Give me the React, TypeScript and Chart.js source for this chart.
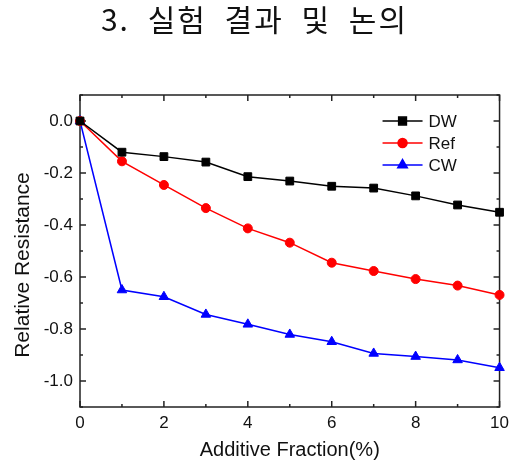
import React, { useEffect, useRef } from "react";
import { Chart, registerables } from "chart.js";
import { drawPoint } from "chart.js/helpers";

Chart.register(...registerables);

// Relative resistance vs. additive fraction for three water types
const fractions = [0, 1, 2, 3, 4, 5, 6, 7, 8, 9, 10];
const dwValues = [0, -0.12, -0.137, -0.158, -0.214, -0.231, -0.251, -0.258, -0.288, -0.323, -0.351];
const refValues = [0, -0.155, -0.246, -0.335, -0.413, -0.468, -0.545, -0.577, -0.608, -0.633, -0.669];
const cwValues = [0, -0.65, -0.676, -0.744, -0.782, -0.821, -0.849, -0.894, -0.906, -0.919, -0.949];

const seriesNames = ["DW", "Ref", "CW"];
const yTickValues = [-1.0, -0.8, -0.6, -0.4, -0.2, 0.0];
const xRange = [0, 10];
const yRange = [-1.1, 0.1];

const pageTitle = "3. 실험 결과 및 논의";
const xAxisTitle = "Additive Fraction(%)";
const yAxisTitle = "Relative Resistance";

const FONT = '"Liberation Sans", Arial, sans-serif';

// Box frame with inward major/minor ticks on all four sides
const framePlugin = {
  id: "frame",
  beforeDatasetsDraw(chart: any) {
    const { ctx, chartArea, scales } = chart;
    const { left, right, top, bottom } = chartArea;
    const line = (x0: number, y0: number, x1: number, y1: number) => {
      ctx.beginPath();
      ctx.moveTo(x0, y0);
      ctx.lineTo(x1, y1);
      ctx.stroke();
    };
    ctx.save();
    ctx.strokeStyle = "#222";
    ctx.lineWidth = 1.5;
    ctx.strokeRect(left, top, right - left, bottom - top);
    for (let v = xRange[0]; v <= xRange[1]; v++) {
      const px = scales.x.getPixelForValue(v);
      const len = v % 2 === 0 ? 6 : 3;
      line(px, bottom, px, bottom - len);
      line(px, top, px, top + len);
    }
    for (let i = -11; i <= 1; i++) {
      const py = scales.y.getPixelForValue(i / 10);
      const len = i % 2 === 0 ? 6 : 3;
      line(left, py, left + len, py);
      line(right, py, right - len, py);
    }
    ctx.restore();
  },
};

// Legend placed inside the plot, upper right
const insideLegendPlugin = {
  id: "insideLegend",
  afterDatasetsDraw(chart: any) {
    const { ctx, chartArea } = chart;
    ctx.save();
    chart.data.datasets.forEach((ds: any, i: number) => {
      const y = chartArea.top + 26 + i * 22;
      const x0 = chartArea.right - 117;
      const x1 = chartArea.right - 77;
      ctx.strokeStyle = ds.borderColor;
      ctx.lineWidth = ds.borderWidth;
      ctx.beginPath();
      ctx.moveTo(x0, y);
      ctx.lineTo(x1, y);
      ctx.stroke();
      ctx.fillStyle = ds.pointBackgroundColor;
      ctx.strokeStyle = ds.borderColor;
      drawPoint(
        ctx,
        { pointStyle: ds.pointStyle, radius: ds.pointRadius, borderWidth: 1, rotation: 0 },
        (x0 + x1) / 2,
        y
      );
      ctx.fillStyle = "#111";
      ctx.font = `17px ${FONT}`;
      ctx.textAlign = "left";
      ctx.textBaseline = "middle";
      ctx.fillText(ds.label, chartArea.right - 71, y + 1);
    });
    ctx.restore();
  },
};

// Section heading above the plot and the vertical axis title
const textPlugin = {
  id: "headings",
  afterDraw(chart: any) {
    const { ctx, chartArea, width } = chart;
    ctx.save();
    ctx.fillStyle = "#111";
    ctx.font = `30px "Noto Sans CJK KR", sans-serif`;
    (ctx as any).letterSpacing = "2px";
    (ctx as any).wordSpacing = "9px";
    ctx.textAlign = "center";
    ctx.textBaseline = "middle";
    ctx.fillText(pageTitle, width / 2 - 3, 20);
    ctx.restore();

    ctx.save();
    ctx.translate(23, (chartArea.top + chartArea.bottom) / 2 + 14);
    ctx.rotate(-Math.PI / 2);
    ctx.fillStyle = "#111";
    ctx.font = `21px ${FONT}`;
    ctx.textAlign = "center";
    ctx.textBaseline = "middle";
    ctx.fillText(yAxisTitle, 0, 0);
    ctx.restore();
  },
};

export default function App() {
  const canvasRef = useRef<HTMLCanvasElement>(null);

  useEffect(() => {
    if (!canvasRef.current) return;
    const mk = (label: string, data: number[], color: string, style: string, r: number) => ({
      label,
      data: fractions.map((f, i) => ({ x: f, y: data[i] })),
      borderColor: color,
      backgroundColor: color,
      pointBackgroundColor: color,
      pointBorderColor: color,
      borderWidth: 1.5,
      pointStyle: style,
      pointRadius: r,
      pointBorderWidth: 1,
      clip: false as any,
    });
    const chart = new Chart(canvasRef.current, {
      type: "line",
      data: {
        datasets: [
          mk(seriesNames[0], dwValues, "#000000", "rect", 5.5),
          mk(seriesNames[1], refValues, "#ff0000", "circle", 4.5),
          mk(seriesNames[2], cwValues, "#0000ff", "triangle", 5.5),
        ],
      },
      options: {
        animation: false,
        responsive: false,
        devicePixelRatio: 1,
        layout: { padding: { left: 0, right: 13, top: 95, bottom: 0 } },
        plugins: {
          legend: { display: false },
          tooltip: { enabled: false },
          title: { display: false },
        },
        scales: {
          x: {
            type: "linear",
            min: xRange[0],
            max: xRange[1],
            grid: { display: false, drawTicks: false },
            border: { display: false },
            ticks: {
              stepSize: 2,
              color: "#111",
              padding: 6,
              font: { family: FONT, size: 17 },
            },
            title: {
              display: true,
              text: xAxisTitle,
              color: "#111",
              font: { family: FONT, size: 20 },
              padding: { top: 0, bottom: 0 },
            },
            afterFit: (s: any) => {
              s.height = 55;
            },
          },
          y: {
            type: "linear",
            min: yRange[0],
            max: yRange[1],
            grid: { display: false, drawTicks: false },
            border: { display: false },
            afterBuildTicks: (s: any) => {
              s.ticks = yTickValues.map((v) => ({ value: v }));
            },
            ticks: {
              color: "#111",
              padding: 7,
              font: { family: FONT, size: 17 },
              callback: (v: any) => Number(v).toFixed(1),
            },
            afterFit: (s: any) => {
              s.width = 80;
            },
          },
        },
      },
      plugins: [framePlugin, insideLegendPlugin, textPlugin],
    } as any);
    return () => chart.destroy();
  }, []);

  return (
    <div style={{ position: "fixed", left: 0, top: 0, width: 515, height: 462, background: "#fff" }}>
      <canvas ref={canvasRef} width={515} height={462} />
    </div>
  );
}
